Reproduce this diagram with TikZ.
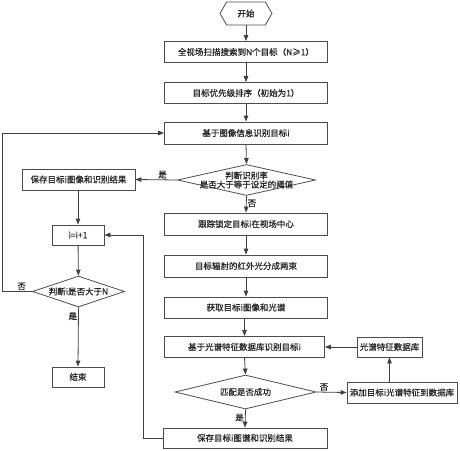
\documentclass[tikz,border=0pt]{standalone}
\usepackage{fontspec}
\setmainfont{Noto Sans CJK SC}[FakeBold=0.7]
\usetikzlibrary{arrows.meta,shapes.geometric,shapes.symbols}
\begin{document}
\begin{tikzpicture}[x=1pt,y=-1pt,
  every node/.style={font=\fontsize{8.5}{10}\selectfont, text=black!85, inner sep=1pt},
  box/.style={draw=black!70, line width=0.8pt, rectangle, minimum height=21pt, fill=white},
  mainbox/.style={box, minimum width=163pt},
  arr/.style={draw=black!75, line width=0.8pt, -{Triangle[length=6pt,width=4.5pt]}},
  lbl/.style={font=\fontsize{8.5}{10}\selectfont}
]
\useasboundingbox (0,0) rectangle (460,450);
% main column
\node[draw=black!70, line width=0.8pt, signal, signal to=east and west, signal pointer angle=120,
      minimum width=52pt, minimum height=23pt] (start) at (246,13.5) {开始};
\node[mainbox] (b1) at (246,52) {全视场扫描搜索到N个目标（N≥1）};
\node[mainbox] (b2) at (246,93) {目标优先级排序（初始为1）};
\node[mainbox, minimum height=22pt] (b3) at (246,133) {基于图像信息识别目标i};
\node[draw=black!70, line width=0.8pt, diamond, minimum width=138pt, minimum height=31pt, inner sep=0pt] (d1) at (246.5,180) {};
\node[align=center, lbl] at (246.5,180) {判断识别率\\[-1pt]是否大于等于设定的阈值};
\node[mainbox, minimum height=22pt] (track) at (246,224) {跟踪锁定目标i在视场中心};
\node[mainbox, minimum height=22pt] (split) at (246,266) {目标辐射的红外光分成两束};
\node[mainbox] (acq) at (246,307.5) {获取目标i图像和光谱};
\node[mainbox, minimum width=160pt] (rec) at (244.5,347) {基于光谱特征数据库识别目标i};
\node[draw=black!70, line width=0.8pt, diamond, minimum width=141pt, minimum height=34pt, inner sep=0pt] (d3) at (245.5,392) {};
\node[lbl] at (245.5,392) {匹配是否成功};
\node[mainbox, minimum width=164pt, minimum height=20pt] (sv2) at (245,438) {保存目标i图谱和识别结果};
% right
\node[box, minimum width=65pt, minimum height=20pt] (db) at (389.5,347) {光谱特征数据库};
\node[box, minimum width=110pt, minimum height=21pt] (add) at (402,392.5) {添加目标i光谱特征到数据库};
% left
\node[box, minimum width=113pt] (sv1) at (78.5,179.5) {保存目标i图像和识别结果};
\node[box, minimum width=52pt, minimum height=20pt] (inc) at (78,235) {i=i+1};
\node[draw=black!70, line width=0.8pt, diamond, minimum width=92pt, minimum height=31pt, inner sep=0pt] (d2) at (78.5,291.5) {};
\node[lbl] at (78.5,291.5) {判断i是否大于N};
\node[box, minimum width=52pt, minimum height=20pt] (end) at (78,377) {结束};
% connectors
\draw[arr] (start.south) -- (b1.north);
\draw[arr] (b1) -- (b2);
\draw[arr] (b2) -- (b3);
\draw[arr] (b3.south) -- (d1.north);
\draw[arr] (d1.south) -- node[lbl, right, pos=0.45] {否} (track.north);
\draw[arr] (d1.west) -- node[lbl, above, pos=0.35] {是} (sv1.east);
\draw[arr] (track) -- (split);
\draw[arr] (split) -- (acq);
\draw[arr] (acq.south -| rec.north) -- (rec.north);
\draw[arr] (rec.south) -- (d3.north);
\draw[arr] (d3.south) -- node[lbl, left, pos=0.45] {是} (sv2.north);
\draw[arr] (d3.east) -- node[lbl, above, pos=0.25] {否} (add.west);
\draw[arr] (db.south |- add.north) -- (db.south);
\draw[arr] (db.west) -- (rec.east);
\draw[arr] (sv1.south -| inc.north) -- (inc.north);
\draw[arr] (inc) -- (d2);
\draw[arr] (d2.south) -- node[lbl, left, pos=0.15] {是} (end.north);
\coordinate (lx) at (2,291.5);
\coordinate (ly) at (2,133);
\draw[arr] (d2.west) -- node[lbl, above, pos=0.35] {否} (lx) -- (ly) -- (b3.west);
\coordinate (rx) at (143.5,438);
\coordinate (ry) at (143.5,235);
\draw[arr] (sv2.west) -- (rx) -- (ry) -- (inc.east);
\end{tikzpicture}
\end{document}
